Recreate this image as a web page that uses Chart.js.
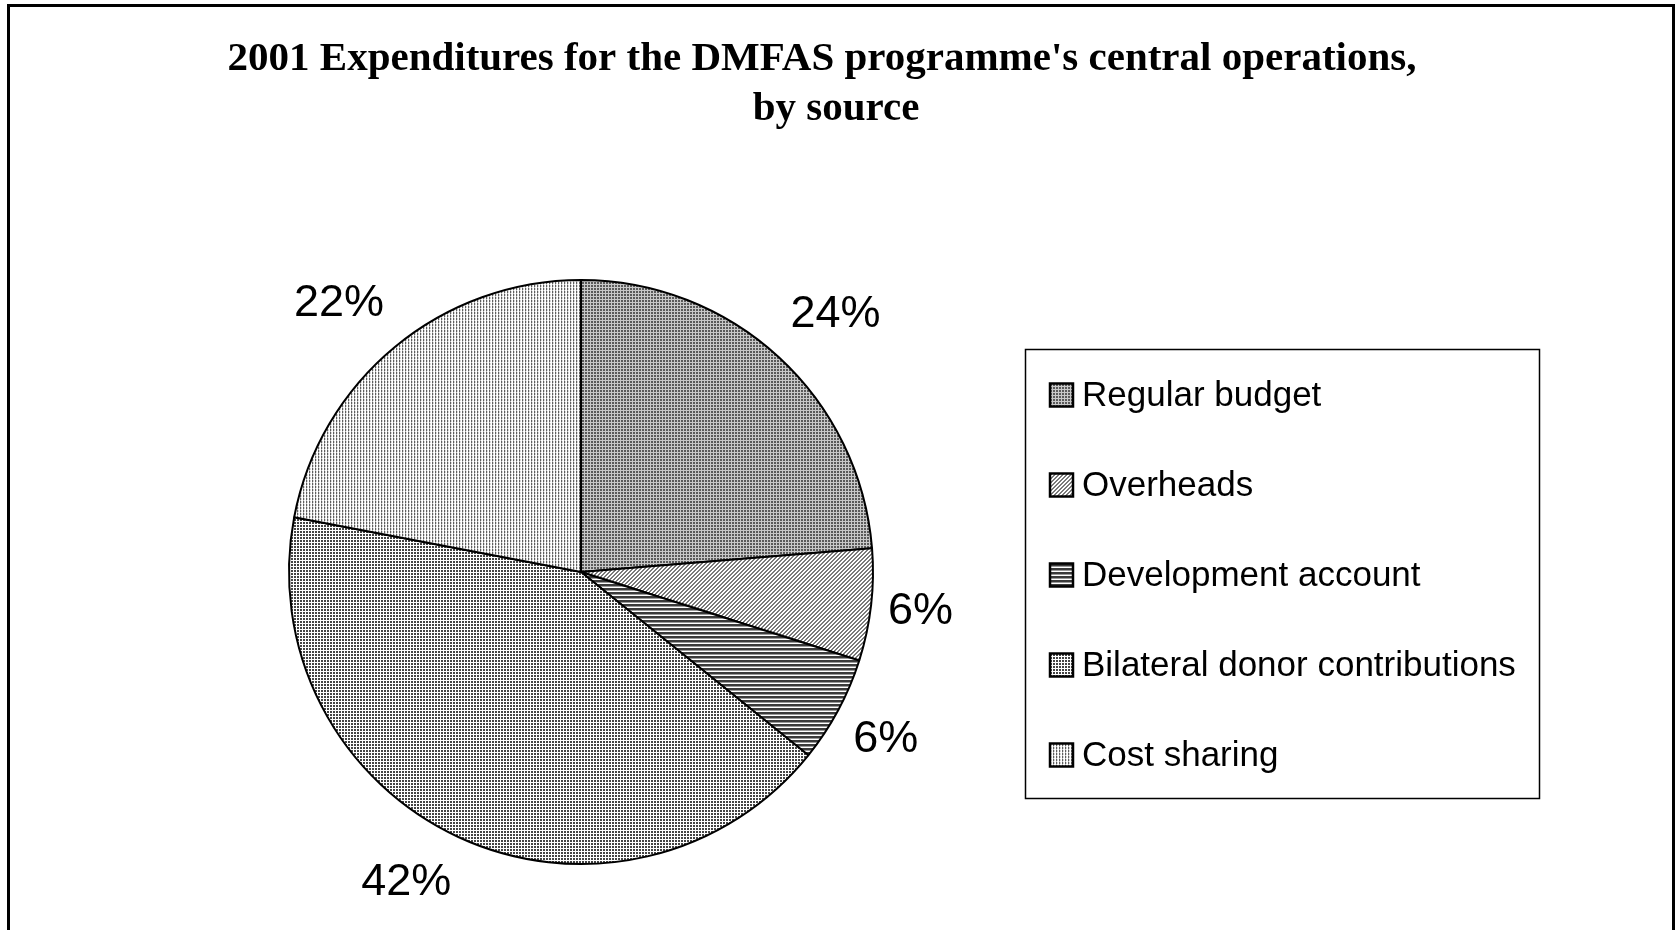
<!DOCTYPE html>
<html>
<head>
<meta charset="utf-8">
<script src="https://cdn.jsdelivr.net/npm/chart.js@4/dist/chart.umd.min.js"></script>
<style>
  body { margin: 0; background: #fff; }
  canvas { display: block; }
</style>
</head>
<body>
<canvas id="myChart" width="1676" height="930"></canvas>
<script>
const titleLines = [
  "2001 Expenditures for the DMFAS programme's central operations,",
  'by source',
];
const sources = [
  'Regular budget',
  'Overheads',
  'Development account',
  'Bilateral donor contributions',
  'Cost sharing',
];
const shares = [23.7, 6.2, 5.9, 42.2, 22.0];

// small bitmap tiles standing in for the black & white fill patterns
function makePattern(size, paint) {
  const tile = document.createElement('canvas');
  tile.width = size;
  tile.height = size;
  const g = tile.getContext('2d');
  g.fillStyle = '#fff';
  g.fillRect(0, 0, size, size);
  for (let y = 0; y < size; y++) {
    for (let x = 0; x < size; x++) {
      const c = paint(x, y);
      if (c) {
        g.fillStyle = c;
        g.fillRect(x, y, 1, 1);
      }
    }
  }
  return g.createPattern(tile, 'repeat');
}

const fills = [
  // grid
  makePattern(3, (x, y) => (x === 2 || y === 2 ? '#c8c8c8' : '#5a5a5a')),
  // fine diagonal
  makePattern(4, (x, y) => ((x + y) % 4 < 2 ? '#7a7a7a' : null)),
  // horizontal lines
  makePattern(4, (x, y) => (y < 2 ? '#3a3a3a' : y === 2 ? '#9a9a9a' : null)),
  // dense dark grid
  makePattern(3, (x, y) => (x === 2 || y === 2 ? null : '#444')),
  // vertical lines
  makePattern(3, (x, y) => (x === 0 ? (y === 2 ? '#bdbdbd' : '#5e5e5e') : x === 1 && y !== 2 ? '#d6d6d6' : null)),
];

const frame = {
  id: 'frame',
  beforeDraw(chart) {
    const { ctx } = chart;
    ctx.save();
    ctx.fillStyle = '#fff';
    ctx.fillRect(0, 0, chart.width, chart.height);
    ctx.strokeStyle = '#000';
    ctx.lineWidth = 3;
    ctx.strokeRect(8.5, 5.5, 1665, 960);
    ctx.restore();
  },
};

const titleText = {
  id: 'titleText',
  afterDraw(chart) {
    const { ctx } = chart;
    ctx.save();
    ctx.font = 'bold 41px "Liberation Serif", "Times New Roman", serif';
    ctx.fillStyle = '#000';
    ctx.textAlign = 'center';
    ctx.textBaseline = 'alphabetic';
    ctx.fillText(titleLines[0], 822, 70);
    ctx.fillText(titleLines[1], 836, 120);
    ctx.restore();
  },
};

const clamp1 = (v) => Math.max(-1, Math.min(1, v));

const pctLabels = {
  id: 'pctLabels',
  afterDatasetsDraw(chart) {
    const { ctx } = chart;
    const arcs = chart.getDatasetMeta(0).data;
    const total = shares.reduce((a, b) => a + b, 0);
    const HALF_H = 30;
    ctx.save();
    ctx.font = '45px "Liberation Sans", Arial, sans-serif';
    ctx.fillStyle = '#000';
    ctx.textAlign = 'center';
    ctx.textBaseline = 'middle';
    arcs.forEach((arc, i) => {
      const mid = (arc.startAngle + arc.endAngle) / 2;
      const text = Math.round((shares[i] / total) * 100) + '%';
      const w = ctx.measureText(text).width;
      const dx = Math.cos(mid);
      const dy = Math.sin(mid);
      const a = arc.outerRadius + 17;
      const px = arc.x + dx * a + clamp1(dx * 2.4) * w / 2;
      const py = arc.y + dy * a + clamp1(dy * 1.5) * HALF_H;
      ctx.fillText(text, px, py);
    });
    ctx.restore();
  },
};

const legendBox = {
  id: 'legendBox',
  afterDraw(chart) {
    const { ctx } = chart;
    const LEFT = 1025, TOP = 349, W = 514, H = 449;
    const ROW0 = 395, ROW_GAP = 90, SW = 23;
    ctx.save();
    ctx.strokeStyle = '#000';
    ctx.lineWidth = 1.5;
    ctx.strokeRect(LEFT + 0.5, TOP + 0.5, W, H);
    ctx.font = '35px "Liberation Sans", Arial, sans-serif';
    ctx.textAlign = 'left';
    ctx.textBaseline = 'middle';
    sources.forEach((name, i) => {
      const yc = ROW0 + i * ROW_GAP;
      ctx.fillStyle = fills[i];
      ctx.fillRect(1050, yc - SW / 2, SW, SW);
      ctx.lineWidth = 2.5;
      ctx.strokeRect(1050, yc - SW / 2, SW, SW);
      ctx.fillStyle = '#000';
      ctx.fillText(name, 1082, yc + 1);
    });
    ctx.restore();
  },
};

const config = {
  type: 'pie',
  data: {
    labels: sources,
    datasets: [
      {
        data: shares,
        backgroundColor: fills,
        borderColor: '#000',
        borderWidth: 2,
        hoverOffset: 0,
      },
    ],
  },
  options: {
    responsive: false,
    animation: false,
    events: [],
    layout: {
      padding: { left: 288, top: 279, right: 802, bottom: 65 },
    },
    plugins: {
      legend: { display: false },
      title: { display: false },
      tooltip: { enabled: false },
    },
  },
  plugins: [frame, titleText, pctLabels, legendBox],
};

const myChart = new Chart(document.getElementById('myChart'), config);
</script>
</body>
</html>
